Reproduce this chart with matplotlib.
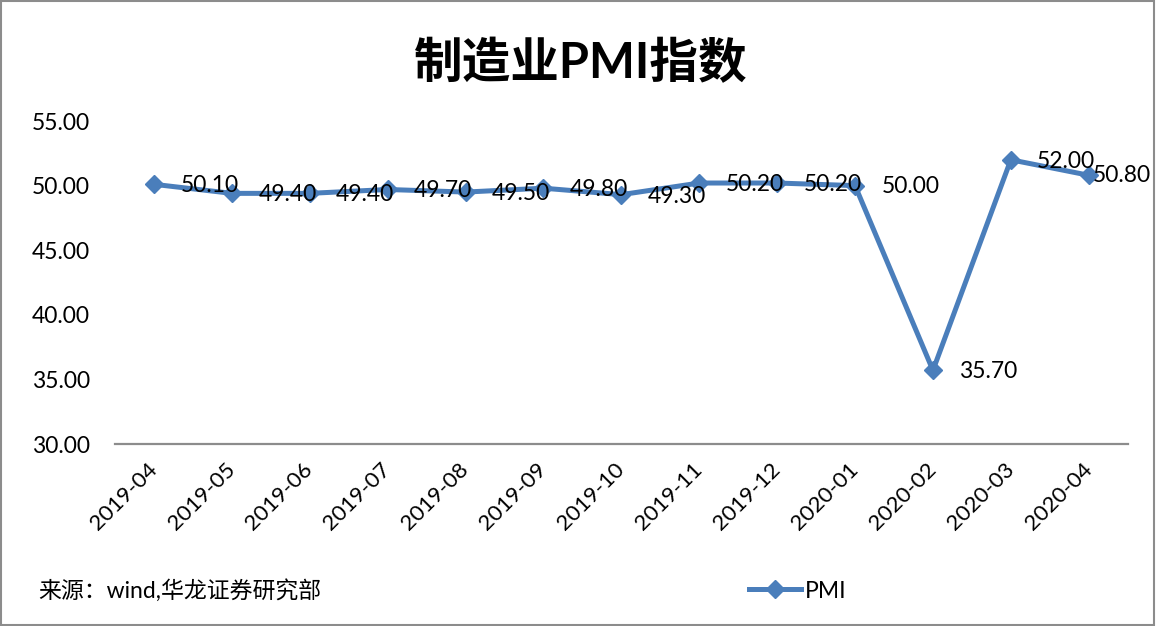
import matplotlib
matplotlib.use("Agg")
import matplotlib.pyplot as plt
from matplotlib.patches import Rectangle

plt.rcParams['font.family'] = ['Lato', 'Noto Sans CJK SC', 'DejaVu Sans']

# 数据
months = ['2019-04', '2019-05', '2019-06', '2019-07', '2019-08', '2019-09', '2019-10',
          '2019-11', '2019-12', '2020-01', '2020-02', '2020-03', '2020-04']
pmi = [50.1, 49.4, 49.4, 49.7, 49.5, 49.8, 49.3, 50.2, 50.2, 50.0, 35.7, 52.0, 50.8]
y_ticks = [30, 35, 40, 45, 50, 55]

color = '#4A7EBB'

fig = plt.figure(figsize=(11.56, 6.26), dpi=100)
ax = fig.add_axes([0.0995, 0.2907, 0.876, 0.516])

x = list(range(len(months)))
ax.plot(x, pmi, color=color, lw=3.6, marker='D', markersize=9, label='PMI')

# 数据标签（最后一个在图表边缘内收）
for xi, v in zip(x, pmi):
    if xi == len(months) - 1:
        ax.annotate(f'{v:.2f}', (xi, v), textcoords='offset points', xytext=(45, 0),
                    ha='right', va='center', fontsize=16.5, color='black')
    else:
        ax.annotate(f'{v:.2f}', (xi, v), textcoords='offset points', xytext=(19, -1),
                    ha='left', va='center', fontsize=16.5, color='black')

ax.set_xlim(-0.5, len(months) - 0.5)
ax.set_ylim(30, 55)
ax.set_yticks(y_ticks)
ax.set_yticklabels([f'{t:.2f}' for t in y_ticks], fontsize=16.5)
ax.set_xticks(x)
ax.set_xticklabels(months, rotation=45, ha='right', va='center', rotation_mode='anchor', fontsize=16)
ax.tick_params(length=0)
ax.tick_params(axis='x', pad=16)
ax.tick_params(axis='y', pad=18)

for s in ['top', 'right', 'left']:
    ax.spines[s].set_visible(False)
ax.spines['bottom'].set_color('#8c8c8c')
ax.spines['bottom'].set_linewidth(1.6)

fig.text(0.502, 0.9, '制造业PMI指数', ha='center', va='center', fontsize=35, fontweight='bold')
fig.text(0.033, 1 - 590 / 626, '来源：wind,华龙证券研究部', ha='left', va='center', fontsize=16.5)

fig.legend(loc='center left', bbox_to_anchor=(728 / 1156, 1 - 591 / 626), frameon=False,
           fontsize=16.5, handlelength=2.3, handletextpad=0.15)

fig.patches.append(Rectangle((0.001, 0.002), 0.997, 0.996, transform=fig.transFigure,
                             fill=False, edgecolor='#8c8c8c', lw=1.5))

fig.savefig('out.png', dpi=100)
